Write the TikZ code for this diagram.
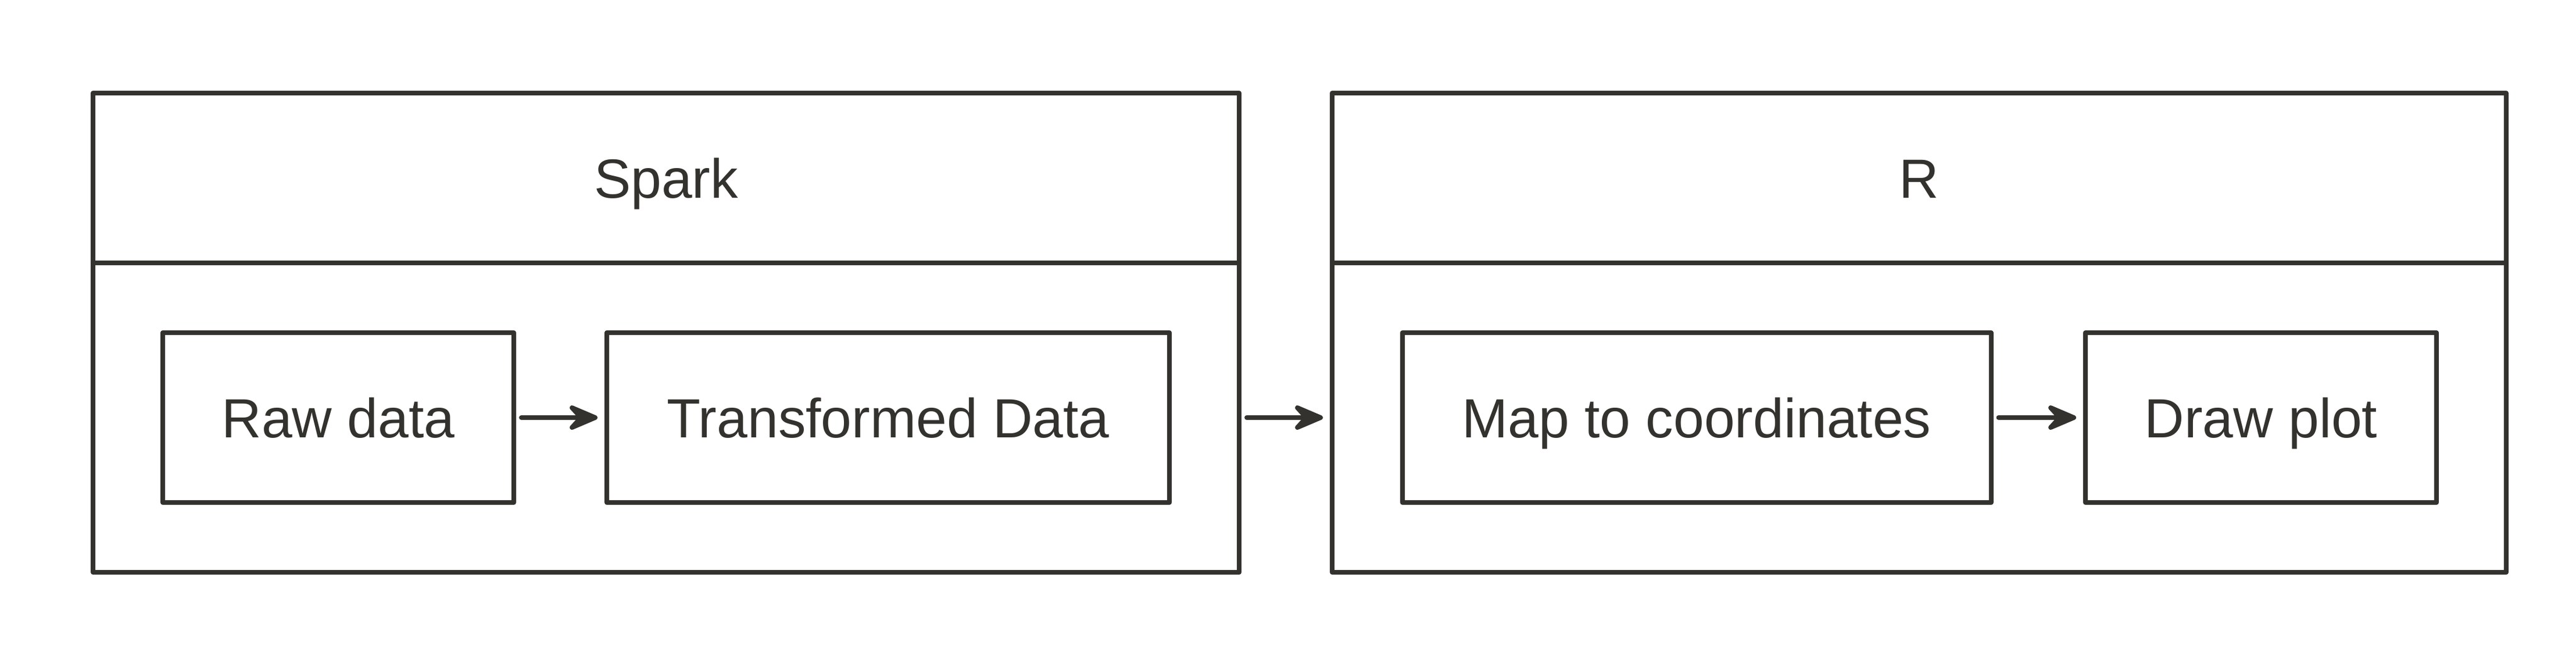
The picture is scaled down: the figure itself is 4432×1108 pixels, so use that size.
\documentclass[tikz,border=0pt]{standalone}
\usepackage{fontspec}
\setmainfont{Liberation Sans}
\usetikzlibrary{arrows.meta}
\definecolor{ink}{HTML}{33322E}

\begin{document}
\begin{tikzpicture}[x=0.2mm, y=-0.2mm,
	line cap=round, line join=round, font=\fontsize{54}{64}\selectfont, color=ink,
	procbox/.style={draw, line width=1.6mm, outer sep=0pt, inner sep=0pt,
		minimum height=58.4mm, text height=13.6mm, text depth=0pt},
	groupbox/.style={draw, line width=1.6mm, outer sep=0pt, inner sep=0pt, minimum height=164.8mm},
	headtext/.style={inner sep=0pt, text height=13.6mm, text depth=0pt},
	flow/.style={-{Stealth[length=13mm, width=11mm, inset=5mm, round]},
		line width=1.6mm, shorten <=2.6mm, shorten >=3.2mm}]
	
	\useasboundingbox (0,0) rectangle (4432,1108);
	
	%========================
	% Left: Spark
	%========================
	\node[groupbox, minimum width=394.4mm] (spark) at (1146,572) {};
	\node[headtext] (sparktitle) at (1146,306) {Spark};
	% header divider
	\draw[line width=1.6mm] (spark.west |- 0,452) -- (spark.east |- 0,452);
	
	\node[procbox, minimum width=120.8mm] (raw) at (582,718) {Raw data};
	\node[procbox, minimum width=193.6mm] (trans) at (1528,718) {Transformed Data};
	\draw[flow] (raw) -- (trans);
	
	%========================
	% Right: R
	%========================
	\node[groupbox, minimum width=404mm] (rlang) at (3302,572) {};
	\node[headtext] (rtitle) at (3302,306) {R};
	% header divider
	\draw[line width=1.6mm] (rlang.west |- 0,452) -- (rlang.east |- 0,452);
	
	\node[procbox, minimum width=202.6mm] (map) at (2919,718) {Map to coordinates};
	\node[procbox, minimum width=120.8mm] (plot) at (3890,718) {Draw plot};
	\draw[flow] (map) -- (plot);
	
	% Spark -> R
	\draw[flow] (spark.east |- raw) -- (rlang.west |- raw);
	
\end{tikzpicture}
\end{document}
